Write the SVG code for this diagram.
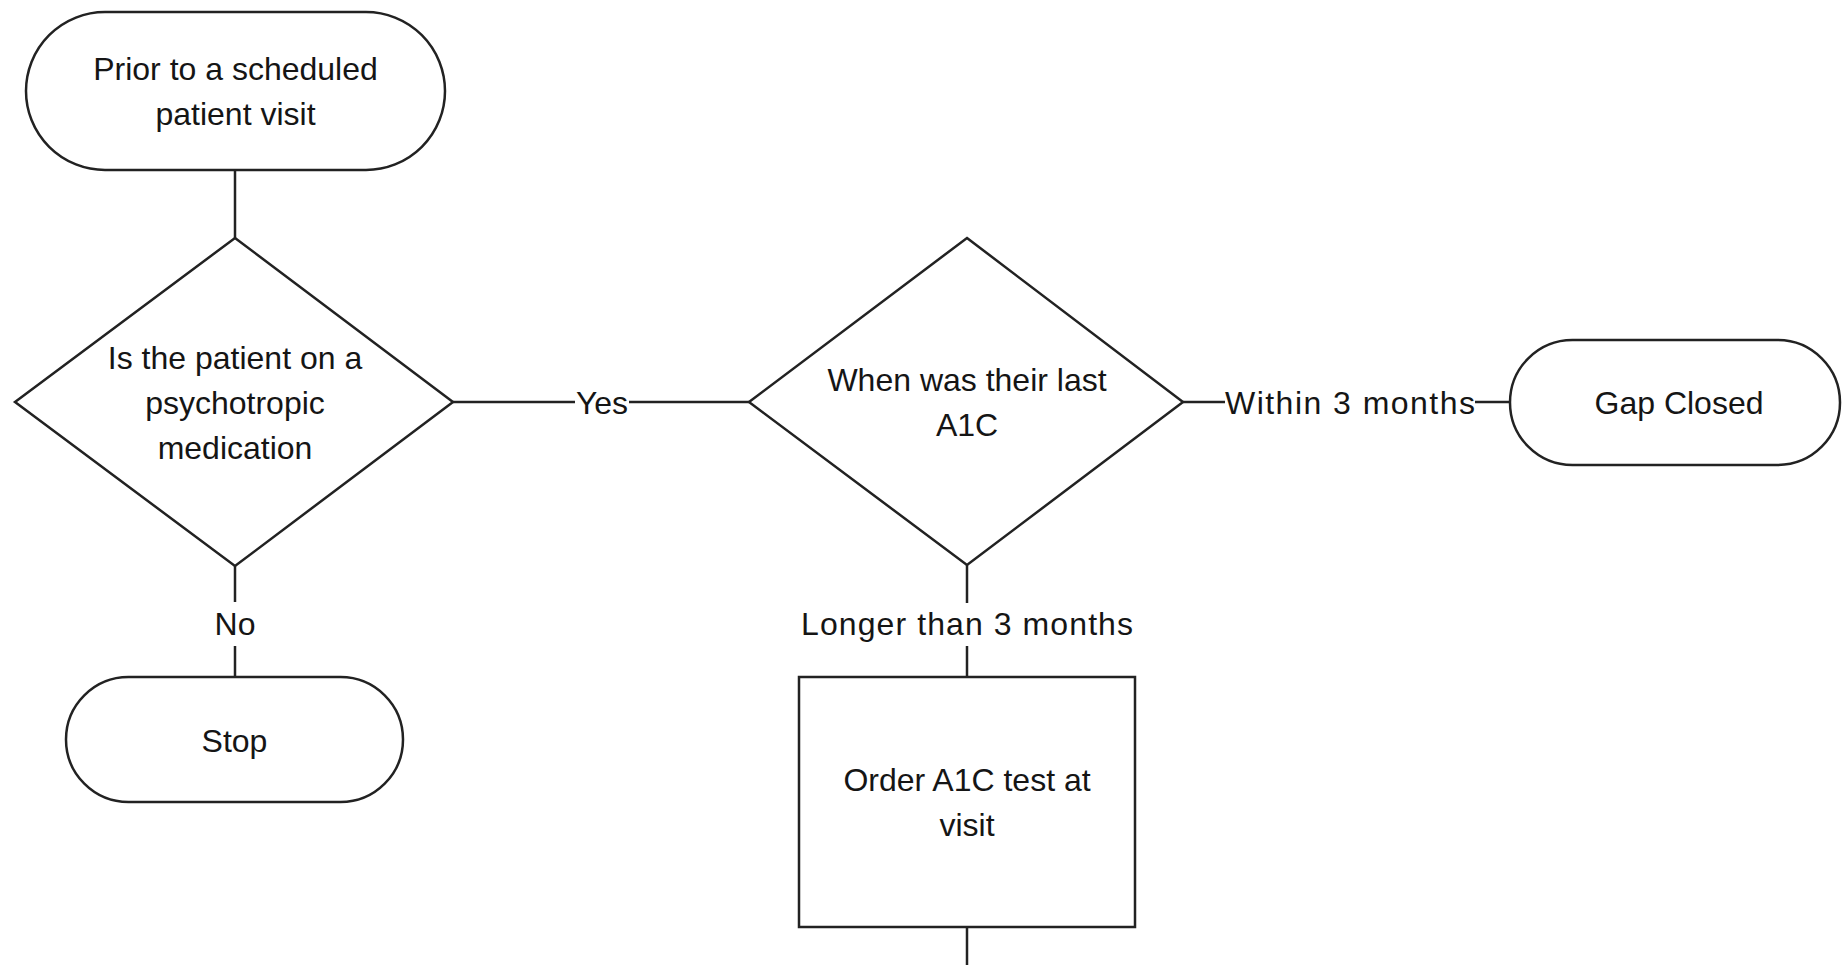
<svg xmlns="http://www.w3.org/2000/svg" width="1842" height="965" viewBox="0 0 1842 965">
<style>
.shape{fill:#fff;stroke:#222;stroke-width:2.5}
.conn{fill:none;stroke:#222;stroke-width:2.5}
.t{font-family:"Liberation Sans",Arial,sans-serif;font-size:32px;fill:#151515;text-anchor:middle}
.bg{fill:#fff;stroke:none}
</style>
<rect width="1842" height="965" fill="#fff"/>
<g id="connectors">
<path class="conn" d="M235,170 V238"/>
<path class="conn" d="M453,402 H749"/>
<path class="conn" d="M235,566 V677"/>
<path class="conn" d="M1183,402 H1510"/>
<path class="conn" d="M967,565 V677"/>
<path class="conn" d="M967,927 V965"/>
<g id="labels">
<rect class="bg" x="575" y="385" width="54" height="34"/>
<text class="t" x="602" y="414">Yes</text>
<rect class="bg" x="215" y="602" width="40" height="44"/>
<text class="t" x="235" y="635">No</text>
<rect class="bg" x="1225" y="385" width="250" height="34"/>
<text class="t" x="1350" y="414" textLength="250" lengthAdjust="spacing">Within 3 months</text>
<rect class="bg" x="800" y="603" width="334" height="43"/>
<text class="t" x="967" y="635" textLength="332" lengthAdjust="spacing">Longer than 3 months</text>
</g>
</g>
<g id="start">
<rect class="shape" x="26" y="12" width="419" height="158" rx="79" ry="79"/>
<text class="t" x="235.5" y="80">Prior to a scheduled</text>
<text class="t" x="235.5" y="125">patient visit</text>
</g>
<g id="decision1">
<polygon class="shape" points="235,238 453,402 235,566 15,402"/>
<text class="t" x="235" y="369">Is the patient on a</text>
<text class="t" x="235" y="414">psychotropic</text>
<text class="t" x="235" y="459">medication</text>
</g>
<g id="stop">
<rect class="shape" x="66" y="677" width="337" height="125" rx="62.5" ry="62.5"/>
<text class="t" x="234.5" y="752">Stop</text>
</g>
<g id="decision2">
<polygon class="shape" points="967,238 1183,402 967,565 749,402"/>
<text class="t" x="967" y="391">When was their last</text>
<text class="t" x="967" y="436">A1C</text>
</g>
<g id="gap">
<rect class="shape" x="1510" y="340" width="330" height="125" rx="62.5" ry="62.5"/>
<text class="t" x="1679" y="414">Gap Closed</text>
</g>
<g id="order">
<rect class="shape" x="799" y="677" width="336" height="250"/>
<text class="t" x="967" y="791">Order A1C test at</text>
<text class="t" x="967" y="836">visit</text>
</g>
</svg>
